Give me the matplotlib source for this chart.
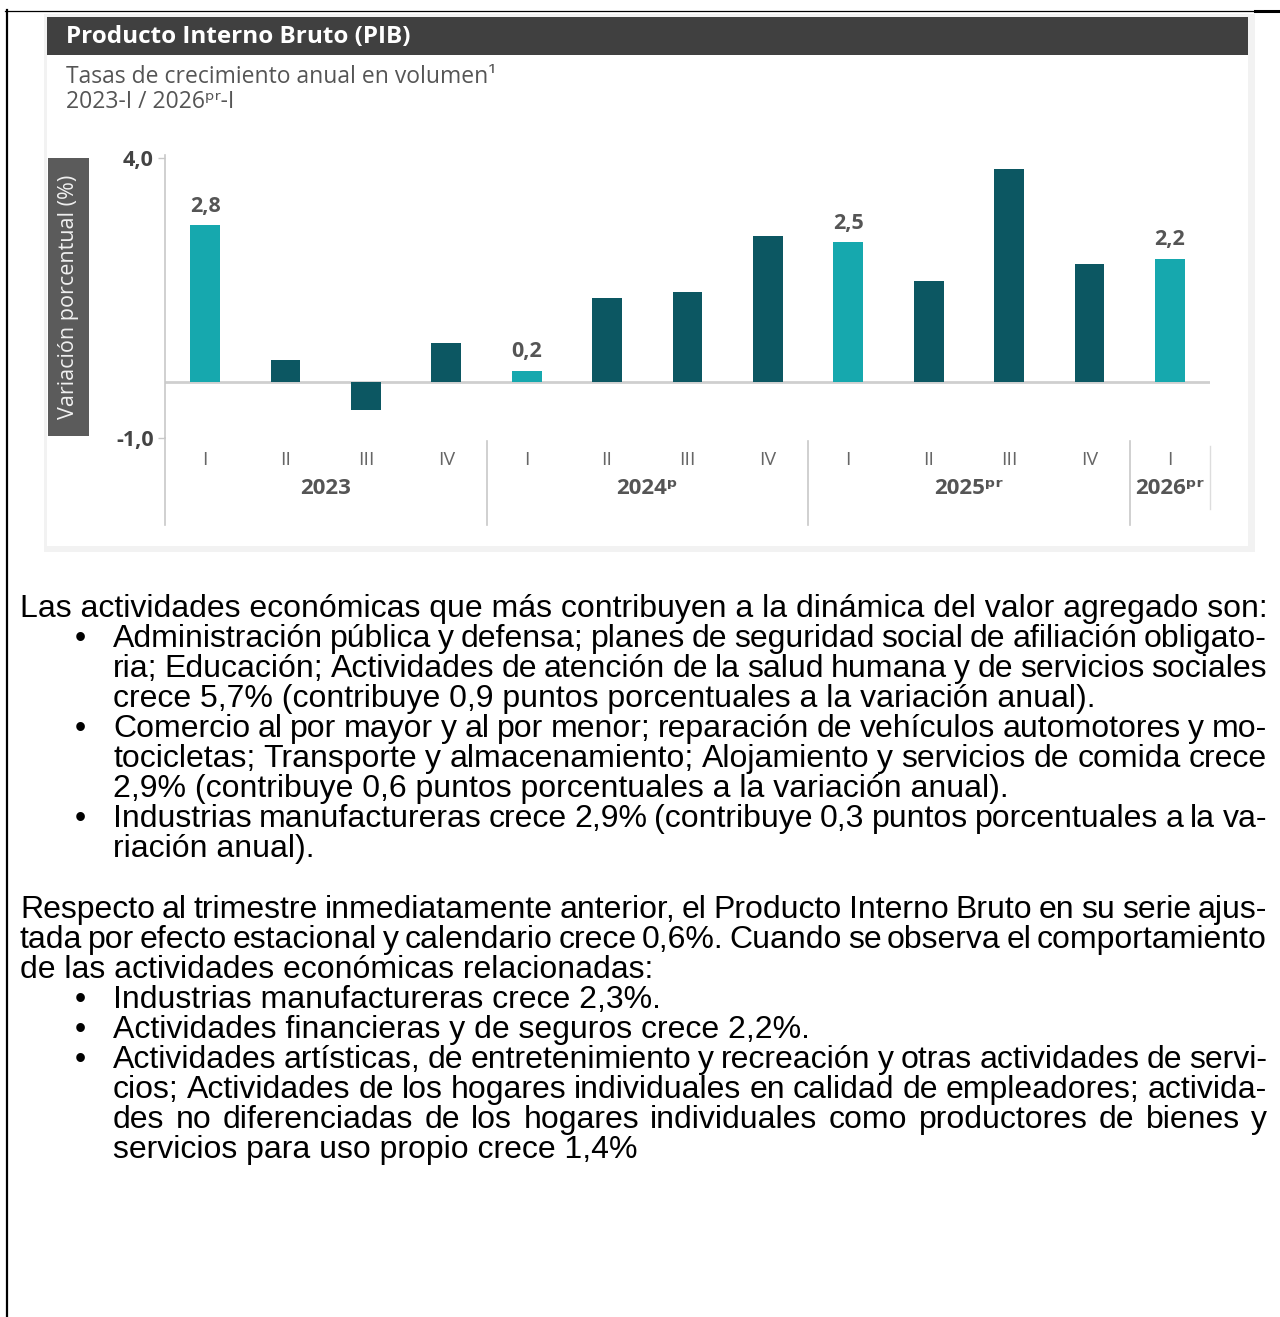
import matplotlib
matplotlib.use('Agg')
import matplotlib.pyplot as plt
from matplotlib.patches import Rectangle

# chart data
quarters = ['I', 'II', 'III', 'IV', 'I', 'II', 'III', 'IV', 'I', 'II', 'III', 'IV', 'I']
growth = [2.8, 0.4, -0.5, 0.7, 0.2, 1.5, 1.6, 2.6, 2.5, 1.8, 3.8, 2.1, 2.2]
labelled = [True, False, False, False, True, False, False, False, True, False, False, False, True]
years = ['2023', '2024ᵖ', '2025ᵖʳ', '2026ᵖʳ']
year_centres = [1.5, 5.5, 9.5, 12]
year_breaks = [3.5, 7.5, 11.5]

title = 'Producto Interno Bruto (PIB)'
subtitle = ['Tasas de crecimiento anual en volumen¹', '2023-I / 2026ᵖʳ-I']
ylabel = 'Variación porcentual (%)'

# body text: (text, indent level, justified, bullet)
body = [
    ('Las actividades económicas que más contribuyen a la dinámica del valor agregado son:', 0, False, False),
    ('Administración pública y defensa; planes de seguridad social de afiliación obligato-', 1, True, True),
    ('ria; Educación; Actividades de atención de la salud humana y de servicios sociales', 1, True, False),
    ('crece 5,7% (contribuye 0,9 puntos porcentuales a la variación anual).', 1, False, False),
    ('Comercio al por mayor y al por menor; reparación de vehículos automotores y mo-', 1, True, True),
    ('tocicletas; Transporte y almacenamiento; Alojamiento y servicios de comida crece', 1, True, False),
    ('2,9% (contribuye 0,6 puntos porcentuales a la variación anual).', 1, False, False),
    ('Industrias manufactureras crece 2,9% (contribuye 0,3 puntos porcentuales a la va-', 1, True, True),
    ('riación anual).', 1, False, False),
    ('', 0, False, False),
    ('Respecto al trimestre inmediatamente anterior, el Producto Interno Bruto en su serie ajus-', 0, True, False),
    ('tada por efecto estacional y calendario crece 0,6%. Cuando se observa el comportamiento', 0, True, False),
    ('de las actividades económicas relacionadas:', 0, False, False),
    ('Industrias manufactureras crece 2,3%.', 1, False, True),
    ('Actividades financieras y de seguros crece 2,2%.', 1, False, True),
    ('Actividades artísticas, de entretenimiento y recreación y otras actividades de servi-', 1, True, True),
    ('cios; Actividades de los hogares individuales en calidad de empleadores; activida-', 1, True, False),
    ('des no diferenciadas de los hogares individuales como productores de bienes y', 1, True, False),
    ('servicios para uso propio crece 1,4%', 1, False, False),
]

W, H = 1280, 1317
chart_font = ['Open Sans', 'DejaVu Sans']
body_font = ['Liberation Sans', 'DejaVu Sans']
teal = '#16a8ae'
dark = '#0c5762'

fig = plt.figure(figsize=(W / 100, H / 100), dpi=100)
ov = fig.add_axes([0, 0, 1, 1])
ov.set_xlim(0, W)
ov.set_ylim(H, 0)
ov.axis('off')

# page border
ov.plot([5, W], [10.5, 10.5], color='black', lw=0.9)
ov.plot([1255, W], [11, 11], color='black', lw=2.2)
ov.plot([7, 7], [10, H], color='black', lw=1.6)

# chart picture frame
ov.add_patch(Rectangle((44, 14), 1211, 538, fc='#f2f2f2', ec='none'))
ov.add_patch(Rectangle((47, 17), 1201, 529, fc='white', ec='none'))
ov.add_patch(Rectangle((47, 17), 1201, 38, fc='#404040', ec='none'))
ov.text(66, 37, title, color='white', fontsize=17.5, weight='bold', va='center', family=chart_font)
ov.text(66, 77, subtitle[0], color='#555555', fontsize=16.5, va='center', family=chart_font)
ov.text(66, 102, subtitle[1], color='#555555', fontsize=16.5, va='center', family=chart_font)

# y label box
ov.add_patch(Rectangle((48, 158), 41, 278, fc='#5b5b5b', ec='none'))
ov.text(68.5, 297, ylabel, color='#f0f0f0', fontsize=15.5, rotation=90, ha='center', va='center',
        family=chart_font)

# bar chart
ax = fig.add_axes([165 / W, 1 - 438 / H, 1045 / W, 283 / H])
ax.patch.set_alpha(0)
x = list(range(len(growth)))
colors = [teal if f else dark for f in labelled]
ax.bar(x, growth, width=0.37, color=colors, zorder=2)
ax.axhline(0, color='#cfcfcf', lw=2, zorder=1)
ax.set_xlim(-0.5, 12.5)
ax.set_ylim(-1, 4.05)
for s in ['top', 'right', 'bottom']:
    ax.spines[s].set_visible(False)
ax.spines['left'].set_color('#c8c8c8')
ax.spines['left'].set_linewidth(1.2)
ax.set_xticks([])
ax.set_yticks([-1, 4])
ax.set_yticklabels(['-1,0', '4,0'])
ax.tick_params(axis='y', length=5, width=1, color='#c8c8c8', labelsize=15.5, labelcolor='#444444', pad=3)
for lab in ax.get_yticklabels():
    lab.set_fontweight('bold')
    lab.set_family(chart_font)

for i, v in enumerate(growth):
    if labelled[i]:
        ax.annotate(f'{v:.1f}'.replace('.', ','), (i, v), xytext=(0, 6), textcoords='offset points',
                    ha='center', va='bottom', fontsize=15.5, weight='bold', color='#555555', family=chart_font)

tr = ax.get_xaxis_transform()
for i, q in enumerate(quarters):
    ax.text(i, -0.078, q, transform=tr, ha='center', va='center', fontsize=14, color='#666666', family=chart_font)
for xc, yr in zip(year_centres, years):
    ax.text(xc, -0.18, yr, transform=tr, ha='center', va='center', fontsize=16, weight='bold',
            color='#555555', family=chart_font)
ax.plot([-0.5, -0.5], [0, -0.307], transform=tr, color='#c8c8c8', lw=1.2, clip_on=False)
for b in year_breaks:
    ax.plot([b, b], [-0.01, -0.307], transform=tr, color='#c8c8c8', lw=1.2, clip_on=False)
ax.plot([12.5, 12.5], [-0.03, -0.25], transform=tr, color='#dddddd', lw=1, clip_on=False)

# body text
renderer = fig.canvas.get_renderer()


def text_width(s, fs):
    t = ov.text(0, 0, s, fontsize=fs, family=body_font)
    w = t.get_window_extent(renderer).width
    t.remove()
    return w


fs = 20 * 1242 / text_width(body[0][0], 20)
left = {0: 20, 1: 113}
right = 1267
y0 = 607
step = 30.06

for n, (line, level, just, bullet) in enumerate(body):
    base = y0 + n * step + 10
    if not line:
        continue
    x0 = left[level]
    if bullet:
        ov.text(80, base, '•', fontsize=fs, family=body_font, ha='center', va='baseline', color='black')
    if not just:
        ov.text(x0, base, line, fontsize=fs, family=body_font, va='baseline', color='black')
        continue
    words = line.split(' ')
    widths = [text_width(w, fs) for w in words]
    gap = (right - x0 - sum(widths)) / (len(words) - 1)
    xp = x0
    for w, wd in zip(words, widths):
        ov.text(xp, base, w, fontsize=fs, family=body_font, va='baseline', color='black')
        xp += wd + gap

fig.savefig('out.png', dpi=100)
